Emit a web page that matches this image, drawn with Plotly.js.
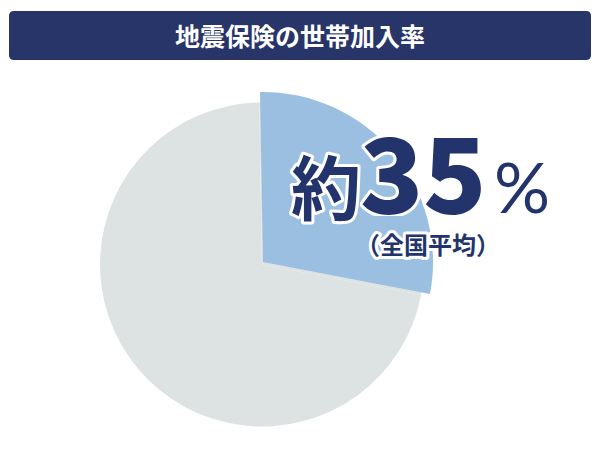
<!DOCTYPE html>
<html>
<head>
<meta charset="utf-8">
<script src="https://cdn.plot.ly/plotly-3.0.1.min.js"></script>
<style>
  html, body { margin: 0; padding: 0; background: #ffffff; }
  #chart { width: 600px; height: 470px; }
  .annotation-text { paint-order: stroke fill; stroke: #ffffff; stroke-width: 6px; stroke-linejoin: round; }
</style>
</head>
<body>
<div id="chart"></div>
<script>
// ---- data ----
const chartTitle = '地震保険の世帯加入率';
const categories = ['加入', '未加入'];
const values = [28.3, 71.7];           // slice shares as drawn in the picture
const sliceColors = ['#9bbfe0', '#dde3e3'];
const prefixText = '約';
const valueText = '35';
const unitText = '%';
const noteText = '（全国平均）';

const W = 600, H = 470;
const px = v => v / W;
const py = v => 1 - v / H;

const baseTrace = {
  type: 'pie',
  labels: categories,
  values: values,
  sort: false,
  direction: 'clockwise',
  rotation: -1,
  marker: { colors: [sliceColors[1], sliceColors[1]], line: { width: 0 } },
  textinfo: 'none',
  hoverinfo: 'skip',
  showlegend: false,
  domain: { x: [px(262 - 162), px(262 + 162)], y: [py(264.5 + 162), py(264.5 - 162)] }
};
const highlightTrace = {
  type: 'pie',
  labels: categories,
  values: values,
  sort: false,
  direction: 'clockwise',
  rotation: -1,
  marker: { colors: [sliceColors[0], 'rgba(0,0,0,0)'], line: { width: 0 } },
  textinfo: 'none',
  hoverinfo: 'skip',
  showlegend: false,
  domain: { x: [px(263 - 170), px(263 + 170)], y: [py(262 + 170), py(262 - 170)] }
};

const x0 = px(9), x1 = px(591), yt = py(11), yb = py(60);
const rx = px(5), ry = 5 / H;
const headerPath = `M ${x0 + rx},${yt} L ${x1 - rx},${yt} Q ${x1},${yt} ${x1},${yt - ry} L ${x1},${yb + ry} Q ${x1},${yb} ${x1 - rx},${yb} L ${x0 + rx},${yb} Q ${x0},${yb} ${x0},${yb + ry} L ${x0},${yt - ry} Q ${x0},${yt} ${x0 + rx},${yt} Z`;

const navy = '#23346c';
const layout = {
  width: W, height: H,
  margin: { l: 0, r: 0, t: 0, b: 0 },
  paper_bgcolor: '#ffffff',
  plot_bgcolor: '#ffffff',
  showlegend: false,
  title: {
    text: chartTitle,
    x: 0.5, xanchor: 'center', xref: 'paper',
    y: py(37.5), yanchor: 'middle', yref: 'paper',
    font: { family: '"Noto Sans CJK JP", sans-serif', size: 25, color: '#ffffff', weight: 700 }
  },
  shapes: [{
    type: 'path', xref: 'paper', yref: 'paper', layer: 'below',
    path: headerPath, fillcolor: '#283569', line: { width: 0 }
  }],
  annotations: [
    { text: prefixText, xref: 'paper', yref: 'paper', x: px(325.5), y: py(184), xanchor: 'center', yanchor: 'middle', showarrow: false,
      font: { family: '"Noto Sans CJK JP", sans-serif', size: 70, color: navy, weight: 700 } },
    { text: valueText, xref: 'paper', yref: 'paper', x: px(423), y: py(168), xanchor: 'center', yanchor: 'middle', showarrow: false,
      height: 96,
      font: { family: '"Noto Sans CJK JP", sans-serif', size: 104, color: navy, weight: 900 } },
    { text: unitText, xref: 'paper', yref: 'paper', x: px(521.5), y: py(186), xanchor: 'center', yanchor: 'middle', showarrow: false,
      font: { family: 'Lato, "Noto Sans", sans-serif', size: 70, color: navy, weight: 400 } },
    { text: noteText, xref: 'paper', yref: 'paper', x: px(427.5), y: py(243), xanchor: 'center', yanchor: 'middle', showarrow: false,
      font: { family: '"Noto Sans CJK JP", sans-serif', size: 24, color: navy, weight: 700 } }
  ]
};

Plotly.newPlot('chart', [baseTrace, highlightTrace], layout, { displayModeBar: false, staticPlot: true });
</script>
</body>
</html>
